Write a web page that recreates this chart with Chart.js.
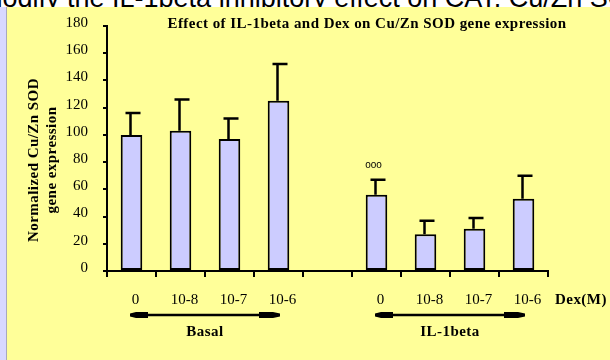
<!DOCTYPE html>
<html>
<head>
<meta charset="utf-8">
<script src="https://cdn.jsdelivr.net/npm/chart.js@4.4.1/dist/chart.umd.min.js"></script>
<style>
  html, body { margin: 0; padding: 0; background: #fff; }
  #page { position: relative; width: 610px; height: 360px; overflow: hidden; background: #fff; }
  #heading { position: absolute; left: -20px; top: -15px; font: 27px "Liberation Sans", Arial, sans-serif;
             line-height: 27px; white-space: nowrap; color: #000; }
  #strip { position: absolute; left: 0; top: 7px; width: 6px; height: 353px; background: #d8d8ff; }
  #edge { position: absolute; left: 6px; top: 7px; width: 1px; height: 353px; background: #a8a8bc; }
  #panel { position: absolute; left: 7px; top: 7px; right: 0; bottom: 0; background: #ffff99; }
  canvas { position: absolute; left: 0; top: 0; }
</style>
</head>
<body>
<div id="page">
  <div id="heading">modify the IL-1beta inhibitory effect on CAT. Cu/Zn SOD gene</div>
  <div id="strip"></div>
  <div id="edge"></div>
  <div id="panel"></div>
  <canvas id="chart" width="610" height="360"></canvas>
</div>
<script>
// Dex concentrations (M) under basal and IL-1beta conditions; the blank slot separates the groups
const doses = ['0', '10-8', '10-7', '10-6', '', '0', '10-8', '10-7', '10-6'];
// normalized Cu/Zn SOD expression (mean) and upper error (SD)
const expression = [100, 103, 97, 125, null, 56, 27, 31, 53];
const deviation = [16, 23, 15, 27, null, 11, 10, 8, 17];
// axis range
const yMin = 0, yMax = 180, yStep = 20;
// treatment groups spanning category indices
const groups = [
  { label: 'Basal', first: 0, last: 3 },
  { label: 'IL-1beta', first: 5, last: 8 }
];
// significance marks above error bars
const marks = [{ index: 5, text: 'ooo' }];

const chartTitle = 'Effect of IL-1beta and Dex on Cu/Zn SOD gene expression';
const yTitle = ['Normalized Cu/Zn SOD', 'gene expression'];
const xUnit = 'Dex(M)';

const SERIF = '"Liberation Serif", "Times New Roman", serif';
const SANS = '"Liberation Sans", Arial, sans-serif';

function setSpacing(ctx, v) { if ('letterSpacing' in ctx) ctx.letterSpacing = v; }

function drawArrow(ctx, x1, x2, yy) {
  ctx.save();
  ctx.fillStyle = '#000';
  ctx.strokeStyle = '#000';
  ctx.lineWidth = 2.5;
  ctx.beginPath();
  ctx.moveTo(x1 + 4, yy);
  ctx.lineTo(x2 - 4, yy);
  ctx.stroke();
  // left head
  ctx.beginPath();
  ctx.moveTo(x1, yy - 1.5);
  ctx.lineTo(x1 + 6, yy - 3);
  ctx.lineTo(x1 + 18, yy - 3);
  ctx.lineTo(x1 + 18, yy + 3);
  ctx.lineTo(x1 + 6, yy + 3);
  ctx.lineTo(x1, yy + 1.5);
  ctx.closePath();
  ctx.fill();
  // right head
  ctx.beginPath();
  ctx.moveTo(x2, yy - 1.5);
  ctx.lineTo(x2 - 7, yy - 3);
  ctx.lineTo(x2 - 21, yy - 3);
  ctx.lineTo(x2 - 21, yy + 3);
  ctx.lineTo(x2 - 7, yy + 3);
  ctx.lineTo(x2, yy + 1.5);
  ctx.closePath();
  ctx.fill();
  ctx.restore();
}

const decorations = {
  id: 'decorations',
  afterDatasetsDraw(chart) {
    const { ctx } = chart;
    const y = chart.scales.y;
    const meta = chart.getDatasetMeta(0);
    ctx.save();
    ctx.strokeStyle = '#000';
    ctx.lineWidth = 2.5;
    meta.data.forEach((bar, i) => {
      if (expression[i] == null) return;
      const top = y.getPixelForValue(expression[i] + deviation[i]);
      const cx = bar.x - 1;
      ctx.beginPath();
      ctx.moveTo(cx, bar.y);
      ctx.lineTo(cx, top);
      ctx.moveTo(cx - 5, top);
      ctx.lineTo(cx + 10, top);
      ctx.stroke();
    });
    // significance marks
    ctx.fillStyle = '#000';
    ctx.font = '10px ' + SANS;
    ctx.textAlign = 'center';
    ctx.textBaseline = 'middle';
    marks.forEach(m => {
      const bar = meta.data[m.index];
      const top = y.getPixelForValue(expression[m.index] + deviation[m.index]);
      ctx.fillText(m.text, bar.x - 3, top - 15);
    });
    ctx.restore();
  },
  afterDraw(chart) {
    const { ctx, chartArea } = chart;
    const x = chart.scales.x;
    ctx.save();
    ctx.fillStyle = '#000';
    setSpacing(ctx, '0.45px');

    // chart title
    ctx.font = 'bold 15px ' + SERIF;
    ctx.textAlign = 'center';
    ctx.textBaseline = 'alphabetic';
    ctx.fillText(chartTitle, 367, 28);

    // unit label at the end of the category axis
    ctx.textAlign = 'left';
    ctx.textBaseline = 'middle';
    ctx.fillText(xUnit, chartArea.right + 7, 300);

    // group brackets and names
    groups.forEach(g => {
      const x1 = x.getPixelForValue(g.first) - 1.5;
      const x2 = x.getPixelForValue(g.last) + 1.5;
      drawArrow(ctx, x1, x2, 315);
      ctx.textAlign = 'center';
      ctx.textBaseline = 'middle';
      ctx.fillText(g.label, (x1 + x2) / 2, 332);
    });

    // y axis title
    ctx.translate(0, 160);
    ctx.rotate(-Math.PI / 2);
    ctx.textAlign = 'center';
    ctx.textBaseline = 'middle';
    ctx.fillText(yTitle[0], 0, 34);
    ctx.fillText(yTitle[1], 0, 52);
    ctx.restore();
  }
};

new Chart(document.getElementById('chart'), {
  type: 'bar',
  data: {
    labels: doses,
    datasets: [{
      data: expression,
      backgroundColor: '#ccccff',
      borderColor: '#000',
      borderWidth: 2,
      borderSkipped: false,
      barPercentage: 0.44,
      categoryPercentage: 1
    }]
  },
  options: {
    responsive: false,
    animation: false,
    devicePixelRatio: 1,
    layout: { padding: { top: 26, right: 62, bottom: 0, left: 0 } },
    plugins: { legend: { display: false }, tooltip: { enabled: false }, title: { display: false } },
    scales: {
      x: {
        type: 'category',
        offset: true,
        grid: { offset: true, drawOnChartArea: false, drawTicks: true, tickLength: 6, color: '#000', lineWidth: 2 },
        border: { display: true, color: '#000', width: 2 },
        ticks: { color: '#000', font: { family: SERIF, size: 15 }, padding: 14, labelOffset: 4,
                 maxRotation: 0, autoSkip: false },
        afterFit(s) { s.height = 89; }
      },
      y: {
        min: yMin,
        max: yMax,
        ticks: { stepSize: yStep, color: '#000', font: { family: SERIF, size: 15 }, padding: 15, labelOffset: -3 },
        grid: { drawOnChartArea: false, drawTicks: true, tickLength: 4, color: '#000', lineWidth: 2 },
        border: { display: true, color: '#000', width: 2 },
        afterFit(s) { s.width = 107; }
      }
    }
  },
  plugins: [decorations]
});
</script>
</body>
</html>
